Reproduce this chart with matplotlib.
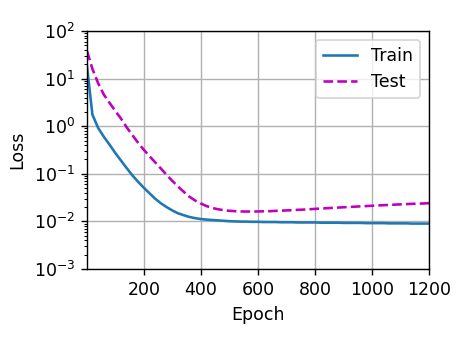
import matplotlib
matplotlib.use("Agg")
import matplotlib.pyplot as plt

epochs = [1] + list(range(20, 1201, 20))

train_loss = [18, 1.75, 0.92, 0.60, 0.41, 0.275, 0.19, 0.132, 0.093, 0.068,
              0.051, 0.039, 0.030, 0.024, 0.020, 0.017, 0.0148, 0.0135, 0.0124, 0.0117,
              0.0112, 0.0109, 0.0107, 0.0105, 0.0103, 0.0101, 0.0100, 0.0099, 0.0099, 0.0098,
              0.0098, 0.0097, 0.0097, 0.0097, 0.0096, 0.0096, 0.0096, 0.0095, 0.0095, 0.0095,
              0.0095, 0.0094, 0.0094, 0.0094, 0.0094, 0.0093, 0.0093, 0.0093, 0.0093, 0.0092,
              0.0092, 0.0092, 0.0092, 0.0091, 0.0091, 0.0091, 0.0091, 0.0090, 0.0090, 0.0090,
              0.0090]

test_loss = [38, 16, 8.0, 4.6, 3.1, 2.1, 1.45, 0.95, 0.65, 0.45,
             0.32, 0.235, 0.174, 0.129, 0.095, 0.071, 0.054, 0.042, 0.033, 0.0275,
             0.0238, 0.021, 0.0192, 0.0180, 0.0172, 0.0167, 0.0164, 0.0162, 0.0161, 0.0161,
             0.0162, 0.0163, 0.0164, 0.0166, 0.0168, 0.0170, 0.0172, 0.0175, 0.0177, 0.0180,
             0.0183, 0.0186, 0.0189, 0.0192, 0.0195, 0.0198, 0.0201, 0.0204, 0.0207, 0.0210,
             0.0213, 0.0216, 0.0219, 0.0222, 0.0225, 0.0228, 0.0231, 0.0234, 0.0236, 0.0238,
             0.0241]

DPI = 125
fig = plt.figure(figsize=(474 / DPI, 355 / DPI), dpi=DPI)
ax = fig.add_axes([87 / 474, 1 - 269 / 355, (429 - 87) / 474, (269 - 31) / 355])
ax.plot(epochs, train_loss, '-', color='#1f77b4', label='Train')
ax.plot(epochs, test_loss, 'm--', label='Test')
ax.set_yscale('log')
ax.set_xlim(1, 1200)
ax.set_ylim(1e-3, 1e2)
ax.set_xlabel('Epoch')
ax.set_ylabel('Loss')
ax.grid(True)
ax.legend(loc='upper right')
fig.savefig('out.png', dpi=DPI)
